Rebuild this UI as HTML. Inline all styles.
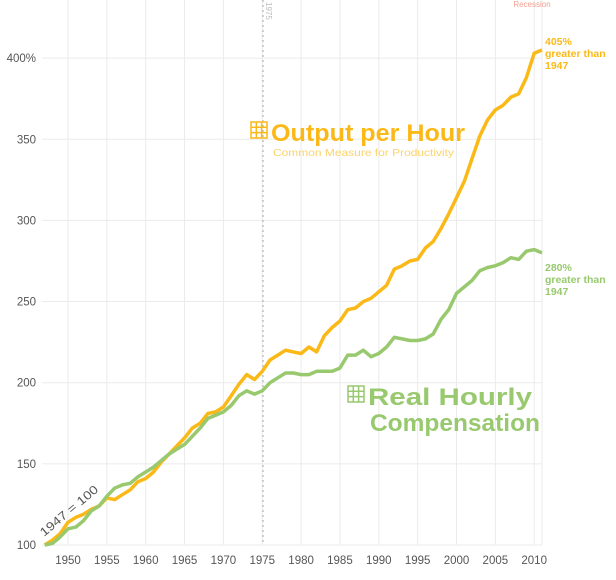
<!DOCTYPE html><html><head><style>body{margin:0;background:#fff}svg{font-family:"Liberation Sans",sans-serif}</style></head><body>
<svg id="s" width="616" height="575" viewBox="0 0 616 575" xmlns="http://www.w3.org/2000/svg">
<g id="grid" stroke="#ebebeb" stroke-width="1"></g>
<line x1="263" y1="0" x2="263" y2="545" stroke="#aaa" stroke-dasharray="2,3"/>
<text x="266" y="2" transform="rotate(90 266 2)" font-size="8" fill="#bbb">1975</text>
<text x="532" y="7" font-size="8" fill="#f4a090" text-anchor="middle">Recession</text>
<g id="lab" font-size="11.5" fill="#555"></g>
<polyline id="prod" fill="none" stroke="#fbb917" stroke-width="3.5" stroke-linejoin="round"/>
<polyline id="comp" fill="none" stroke="#98c96e" stroke-width="3.5" stroke-linejoin="round"/>
<text x="44" y="537" transform="rotate(-40 44 537)" font-size="12" fill="#555" textLength="72" lengthAdjust="spacingAndGlyphs">1947 = 100</text>
<g fill="none" stroke="#fbb917" stroke-width="1.5"><rect x="251" y="122" width="16" height="16"/><path d="M256.3 122v16M261.6 122v16M251 127.3h16M251 132.6h16"/></g>
<text x="271" y="141" font-size="24" font-weight="bold" fill="#fbb917" textLength="194" lengthAdjust="spacingAndGlyphs">Output per Hour</text>
<text x="273" y="156" font-size="10.5" fill="#fcd36a" textLength="181" lengthAdjust="spacingAndGlyphs">Common Measure for Productivity</text>
<g fill="none" stroke="#98c96e" stroke-width="1.5"><rect x="348" y="386" width="16" height="16"/><path d="M353.3 386v16M358.6 386v16M348 391.3h16M348 396.6h16"/></g>
<text x="368" y="405" font-size="24" font-weight="bold" fill="#98c96e" textLength="164" lengthAdjust="spacingAndGlyphs">Real Hourly</text>
<text x="370" y="431" font-size="24" font-weight="bold" fill="#98c96e" textLength="170" lengthAdjust="spacingAndGlyphs">Compensation</text>
<g font-size="10.5" font-weight="bold" fill="#fbb917"><text x="545" y="45">405%</text><text x="545" y="57">greater than</text><text x="545" y="69">1947</text></g>
<g font-size="10.5" font-weight="bold" fill="#98c96e"><text x="545" y="271">280%</text><text x="545" y="283">greater than</text><text x="545" y="295">1947</text></g>
</svg>
<script>
var X=function(y){return 68+(y-1950)*7.77},Y=function(v){return 545-(v-100)*1.623};
var g=document.getElementById('grid'),l=document.getElementById('lab'),h='',t='';
for(var v=100;v<=400;v+=50){h+='<line x1="42" x2="542" y1="'+Y(v)+'" y2="'+Y(v)+'"/>';t+='<text x="36" y="'+(Y(v)+4)+'" text-anchor="end">'+v+(v==400?'%':'')+'</text>';}
for(var y=1950;y<=2010;y+=5){h+='<line y1="0" y2="545" x1="'+X(y)+'" x2="'+X(y)+'"/>';t+='<text x="'+X(y)+'" y="564" text-anchor="middle">'+y+'</text>';}
h+='<line y1="0" y2="545" x1="542" x2="542"/>';
g.innerHTML=h;l.innerHTML=t;
var p=[100,103,107,114,117,119,122,124,129,128,131,134,139,141,145,151,156,161,166,172,175,181,182,185,192,199,205,202,207,214,217,220,219,218,222,219,229,234,238,245,246,250,252,256,260,270,272,275,276,283,287,295,304,314,324,338,352,362,368,371,376,378,388,403,405];
var c=[100,101,105,110,111,115,121,124,130,135,137,138,142,145,148,152,156,159,162,167,172,178,180,182,186,192,195,193,195,200,203,206,206,205,205,207,207,207,209,217,217,220,216,218,222,228,227,226,226,227,230,239,245,255,259,263,269,271,272,274,277,276,281,282,280];
function pts(a){return a.map(function(v,i){return X(1947+i).toFixed(1)+','+Y(v).toFixed(1)}).join(' ')}
document.getElementById('prod').setAttribute('points',pts(p));
document.getElementById('comp').setAttribute('points',pts(c));
</script>
</body></html>
